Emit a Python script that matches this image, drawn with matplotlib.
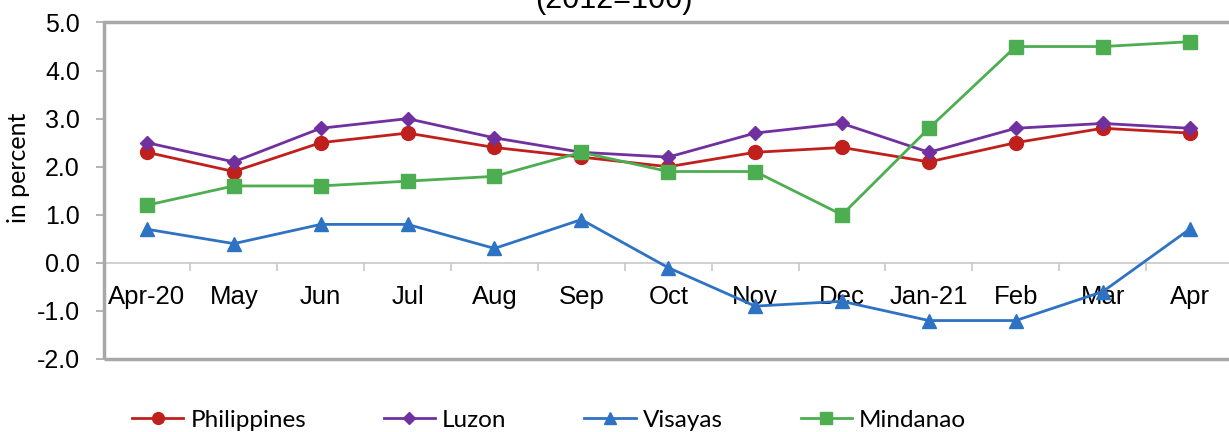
import matplotlib
matplotlib.use("Agg")
import matplotlib.pyplot as plt
from matplotlib.patches import Rectangle
from matplotlib.ticker import FixedLocator, NullFormatter

categories = ["Apr-20", "May", "Jun", "Jul", "Aug", "Sep", "Oct", "Nov", "Dec",
              "Jan-21", "Feb", "Mar", "Apr"]
philippines = [2.3, 1.9, 2.5, 2.7, 2.4, 2.2, 2.0, 2.3, 2.4, 2.1, 2.5, 2.8, 2.7]
luzon = [2.5, 2.1, 2.8, 3.0, 2.6, 2.3, 2.2, 2.7, 2.9, 2.3, 2.8, 2.9, 2.8]
visayas = [0.7, 0.4, 0.8, 0.8, 0.3, 0.9, -0.1, -0.9, -0.8, -1.2, -1.2, -0.6, 0.7]
mindanao = [1.2, 1.6, 1.6, 1.7, 1.8, 2.3, 1.9, 1.9, 1.0, 2.8, 4.5, 4.5, 4.6]
y_ticks = [-2.0, -1.0, 0.0, 1.0, 2.0, 3.0, 4.0, 5.0]

W, H = 1229, 432
fig = plt.figure(figsize=(W / 100, H / 100), dpi=100)
ax = fig.add_axes([103.5 / W, 1 - 359 / H, (1233 - 103.5) / W, (359 - 22.5) / H])

x = list(range(len(categories)))
series = [
    ("Philippines", philippines, "#c0201c", "o", 10),
    ("Luzon", luzon, "#7030a0", "D", 7),
    ("Visayas", visayas, "#2e72c4", "^", 10),
    ("Mindanao", mindanao, "#4cae50", "s", 9.5),
]
handles = []
for name, vals, col, mk, ms in series:
    h, = ax.plot(x, vals, color=col, marker=mk, markersize=ms, linewidth=2.0,
                 label=name, zorder=3)
    handles.append(h)

ax.set_xlim(-0.5, len(categories) - 0.5)
ax.set_ylim(-2.0, 5.0)

for s in ["top", "right", "left"]:
    ax.spines[s].set_visible(False)
ax.spines["bottom"].set_position(("data", 0))
ax.spines["bottom"].set_color("#c8c8c8")
ax.spines["bottom"].set_linewidth(1.2)
ax.spines["bottom"].set_zorder(1)

frame = Rectangle((0, 0), 1, 1, transform=ax.transAxes, fill=False,
                  edgecolor="#a8a8a8", linewidth=2.5, clip_on=False, zorder=5)
ax.add_patch(frame)

ax.set_xticks(x)
ax.set_xticklabels(categories, fontsize=18.5, family="Liberation Sans")
ax.tick_params(axis="x", which="major", length=0, pad=16)
ax.xaxis.set_minor_locator(FixedLocator([i + 0.5 for i in range(len(categories) - 1)]))
ax.xaxis.set_minor_formatter(NullFormatter())
ax.tick_params(axis="x", which="minor", length=6, width=1.2, color="#c8c8c8",
               direction="out")

ax.set_yticks(y_ticks)
ax.set_yticklabels([f"{v:.1f}" for v in y_ticks], fontsize=18, family="Liberation Sans")
ax.tick_params(axis="y", length=6, width=1.2, color="#a8a8a8", pad=11, direction="out")

fig.text(19 / W, 1 - 168 / H, "in percent", rotation=90, ha="center", va="center",
         fontsize=18, family="Lato")

fig.text(614 / W, 1 - 8 / H, "(2012=100)", ha="center", va="baseline",
         fontsize=22, family="Liberation Sans")

leg = fig.legend(handles=handles, loc="center left",
                 bbox_to_anchor=(132 / W, 1 - 420 / H), ncol=4, frameon=False,
                 prop={"family": "Lato", "size": 17.5}, handlelength=2.1,
                 handletextpad=0.3, columnspacing=3.2, borderaxespad=0,
                 borderpad=0, markerscale=0.85)

fig.savefig("out.png", dpi=100)
